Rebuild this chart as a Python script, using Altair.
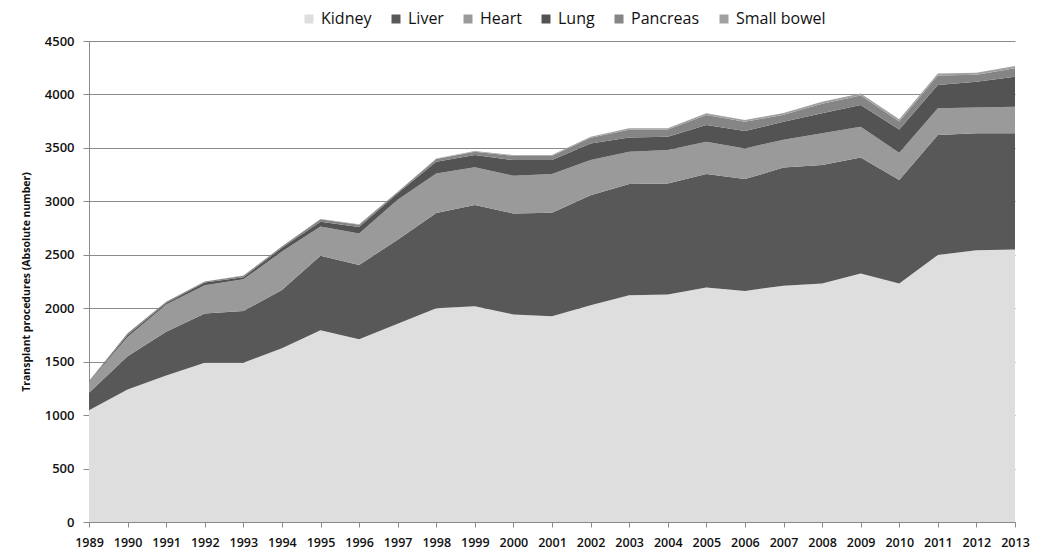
import altair as alt
import pandas as pd

years = list(range(1989, 2014))
kidney = [1045, 1240, 1370, 1490, 1490, 1625, 1795, 1710, 1855, 2000, 2019, 1941, 1926,
          2028, 2122, 2129, 2194, 2162, 2211, 2232, 2325, 2232, 2497, 2543, 2550]
liver = [165, 310, 410, 460, 485, 545, 695, 695, 785, 890, 946, 946, 967,
         1030, 1039, 1039, 1061, 1046, 1105, 1107, 1086, 967, 1123, 1093, 1086]
heart = [100, 180, 255, 265, 295, 360, 275, 295, 375, 370, 353, 352, 362,
         328, 303, 312, 302, 287, 261, 297, 287, 255, 250, 243, 249]
lung = [5, 20, 15, 25, 20, 35, 45, 60, 60, 110, 115, 147, 131,
        156, 134, 124, 156, 162, 167, 187, 203, 219, 218, 240, 281]
pancreas = [5, 15, 10, 10, 13, 13, 22, 22, 12, 25, 30, 40, 40,
            52, 72, 67, 95, 88, 65, 90, 90, 75, 90, 66, 80]
small_bowel = [0, 0, 0, 0, 2, 2, 3, 3, 3, 5, 7, 7, 7,
               10, 13, 12, 15, 15, 17, 19, 19, 19, 19, 18, 20]

organs = ["Kidney", "Liver", "Heart", "Lung", "Pancreas", "Small bowel"]
series = [kidney, liver, heart, lung, pancreas, small_bowel]
colors = ["#dedede", "#585858", "#9a9a9a", "#535353", "#858585", "#a0a0a0"]
y_ticks = list(range(0, 4501, 500))

rows = []
for k, (name, vals) in enumerate(zip(organs, series)):
    for yr, v in zip(years, vals):
        rows.append({"year": yr, "organ": name, "value": v, "rank": k})
df = pd.DataFrame(rows)

FONT = "Open Sans"

chart = alt.Chart(df).mark_area(interpolate="linear").encode(
    x=alt.X("year:Q",
            scale=alt.Scale(domain=[1989, 2013], nice=False, zero=False),
            axis=alt.Axis(values=years, format="d", title=None, grid=False,
                          labelFont=FONT, labelFontSize=12.5, labelFontWeight=600,
                          labelColor="#111",
                          labelFlush=False, labelOverlap=False, labelPadding=9,
                          tickSize=5, tickColor="#8a8a8a", domainColor="#8a8a8a")),
    y=alt.Y("value:Q", stack="zero",
            scale=alt.Scale(domain=[0, 4500], nice=False),
            axis=alt.Axis(values=y_ticks, format="d",
                          title="Transplant procedures (Absolute number)",
                          titleFont=FONT, titleFontSize=10.5, titleFontWeight="bold",
                          titleColor="#111", titlePadding=13,
                          labelFont=FONT, labelFontSize=13, labelFontWeight=600,
                          labelColor="#111",
                          labelPadding=9, tickSize=6, tickColor="#8a8a8a",
                          domainColor="#8a8a8a", grid=True, gridColor="#8a8a8a",
                          gridWidth=1)),
    color=alt.Color("organ:N",
                    scale=alt.Scale(domain=organs, range=colors),
                    legend=alt.Legend(title=None, orient="none", legendX=212, legendY=-30,
                                      direction="horizontal", columns=6,
                                      symbolType="square", symbolSize=81,
                                      symbolStrokeWidth=0, labelFont=FONT,
                                      labelFontSize=16, labelFontWeight=500,
                                      labelColor="#111",
                                      labelOffset=4, columnPadding=16, padding=0)),
    order=alt.Order("rank:Q", sort="ascending"),
).properties(
    width=926, height=481,
    autosize=alt.AutoSizeParams(type="none"),
    padding={"left": 81, "top": 33, "right": 15, "bottom": 32},
).configure_view(stroke=None)

chart.save("out.html", embed_options={"renderer": "svg", "actions": False})
